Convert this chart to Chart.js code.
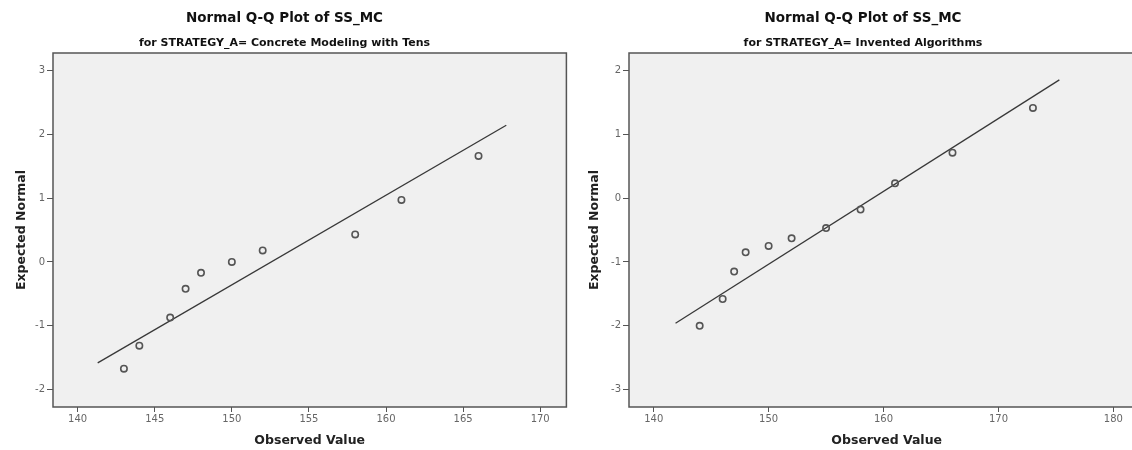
<!DOCTYPE html>
<html><head><meta charset="utf-8">
<script src="https://cdn.jsdelivr.net/npm/chart.js@4.4.1/dist/chart.umd.min.js"></script>
<style>
html,body{margin:0;padding:0;background:#fff;overflow:hidden;width:1132px;height:450px;}
#wa{position:absolute;left:0;top:0;width:572px;height:450px;}
#wb{position:absolute;left:576px;top:0;width:574px;height:450px;}
</style></head><body>
<div id="wa"><canvas id="ca" width="572" height="450"></canvas></div>
<div id="wb"><canvas id="cb" width="574" height="450"></canvas></div>
<script>
// ---- data: left panel (Concrete Modeling with Tens)
const obsA = [143, 144, 146, 147, 148, 150, 152, 158, 161, 166];
const expA = [-1.67, -1.31, -0.87, -0.42, -0.17, 0.00, 0.18, 0.43, 0.97, 1.66];
const fitXA = [141.3, 167.8];
const fitYA = [-1.58, 2.14];
const xTicksA = [140, 145, 150, 155, 160, 165, 170];
const yTicksA = [-2, -1, 0, 1, 2, 3];
const subtitleA = 'for STRATEGY_A= Concrete Modeling with Tens';

// ---- data: right panel (Invented Algorithms)
const obsB = [144, 146, 147, 148, 150, 152, 155, 158, 161, 166, 173];
const expB = [-2.00, -1.58, -1.15, -0.85, -0.75, -0.63, -0.47, -0.18, 0.23, 0.71, 1.41];
const fitXB = [141.9, 175.3];
const fitYB = [-1.96, 1.85];
const xTicksB = [140, 150, 160, 170, 180];
const yTicksB = [-3, -2, -1, 0, 1, 2];
const subtitleB = 'for STRATEGY_A= Invented Algorithms';

const mainTitle = 'Normal Q-Q Plot of SS_MC';
const xTitle = 'Observed Value';
const yTitle = 'Expected Normal';

Chart.defaults.font.family = "'DejaVu Sans', 'Liberation Sans', sans-serif";
Chart.defaults.animation = false;

const frame = {
  id: 'frame',
  beforeDraw(chart) {
    const {ctx, chartArea: a} = chart;
    ctx.save();
    ctx.fillStyle = '#f0f0f0';
    ctx.fillRect(a.left, a.top, a.right - a.left, a.bottom - a.top);
    ctx.restore();
  },
  afterDraw(chart) {
    const {ctx, chartArea: a} = chart;
    ctx.save();
    ctx.strokeStyle = '#555';
    ctx.lineWidth = 1.5;
    ctx.strokeRect(a.left, a.top, a.right - a.left, a.bottom - a.top);
    ctx.restore();
  }
};

function makeChart(id, obs, exp, fx, fy, xt, yt, xr, yr, sub, yTitlePad, padRight) {
  const pts = obs.map((v, i) => ({x: v, y: exp[i]}));
  const line = fx.map((v, i) => ({x: v, y: fy[i]}));
  return new Chart(document.getElementById(id), {
    type: 'scatter',
    data: {
      datasets: [
        {type: 'line', data: line, borderColor: '#383838', borderWidth: 1.3, pointRadius: 0, fill: false, order: 2},
        {data: pts, pointRadius: 3.2, pointBorderWidth: 1.6, pointBorderColor: '#555', pointBackgroundColor: 'rgba(0,0,0,0)', order: 1}
      ]
    },
    options: {
      responsive: false,
      layout: {padding: {left: 0, right: padRight, top: 0, bottom: 0}},
      plugins: {
        legend: {display: false},
        tooltip: {enabled: false},
        title: {display: true, text: mainTitle, color: '#111', font: {size: 13.5, weight: 'bold'}, padding: {top: 9.9, bottom: 10.3}},
        subtitle: {display: true, text: sub, color: '#111', font: {size: 11, weight: 'bold'}, padding: {top: 0, bottom: 3.4}}
      },
      scales: {
        x: {
          type: 'linear', min: xr[0], max: xr[1],
          afterBuildTicks: s => { s.ticks = xt.map(v => ({value: v})); },
          afterFit: s => { s.height = 43; },
          grid: {display: true, drawOnChartArea: false, drawTicks: true, tickLength: 5, color: '#555', lineWidth: 1},
          border: {display: false},
          ticks: {font: {size: 10}, color: '#666', padding: 1, maxRotation: 0, autoSkip: false},
          title: {display: true, text: xTitle, color: '#222', font: {size: 12.5, weight: 'bold'}, padding: {top: 0, bottom: 1.5}}
        },
        y: {
          type: 'linear', min: yr[0], max: yr[1],
          afterBuildTicks: s => { s.ticks = yt.map(v => ({value: v})); },
          afterFit: s => { s.width = 53; },
          grid: {display: true, drawOnChartArea: false, drawTicks: true, tickLength: 6, color: '#555', lineWidth: 1},
          border: {display: false},
          ticks: {font: {size: 10}, color: '#666', padding: 2, autoSkip: false},
          title: {display: true, text: yTitle, color: '#222', font: {size: 12.5, weight: 'bold'}, padding: {top: yTitlePad, bottom: 0}}
        }
      }
    },
    plugins: [frame]
  });
}

makeChart('ca', obsA, expA, fitXA, fitYA, xTicksA, yTicksA, [138.4, 171.7], [-2.27, 3.27], subtitleA, 14.5, 3);
makeChart('cb', obsB, expB, fitXB, fitYB, xTicksB, yTicksB, [137.85, 182.7], [-3.27, 2.27], subtitleB, 11.5, 0);
</script>
</body></html>
